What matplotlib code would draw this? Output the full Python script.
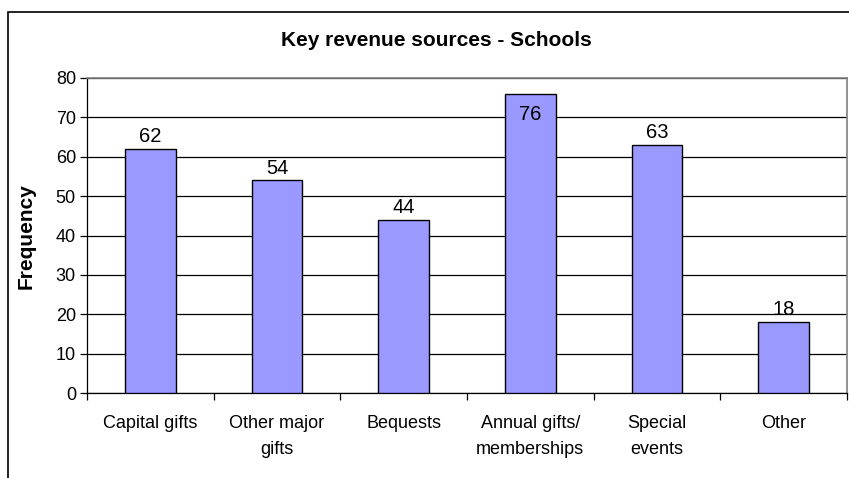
import matplotlib.pyplot as plt
from matplotlib.patches import Rectangle

categories = ["Capital gifts", "Other major\ngifts", "Bequests",
              "Annual gifts/\nmemberships", "Special\nevents", "Other"]
frequency = [62, 54, 44, 76, 63, 18]
yticks = [0, 10, 20, 30, 40, 50, 60, 70, 80]


def main():
    plt.rcParams["font.family"] = ["Liberation Sans", "DejaVu Sans"]
    fig = plt.figure(figsize=(8.49, 4.78), dpi=100)
    ax = fig.add_axes([87 / 849, 85 / 478, 760 / 849, 315 / 478])

    x = list(range(len(categories)))
    ax.bar(x, frequency, width=0.4, color="#9999FF", edgecolor="black",
           linewidth=1, zorder=3)

    for xi, v in zip(x, frequency):
        if v > 72:
            # no room above the top of the axis, put it inside the bar
            ax.annotate(str(v), (xi, v), xytext=(0, -8), textcoords="offset points",
                        ha="center", va="top", fontsize=14.5, zorder=4)
        else:
            ax.annotate(str(v), (xi, v), xytext=(0, 2), textcoords="offset points",
                        ha="center", va="bottom", fontsize=14.5, zorder=4)

    ax.set_xlim(-0.5, len(categories) - 0.5)
    ax.set_ylim(0, 80)
    ax.set_yticks(yticks)
    ax.set_yticklabels([str(t) for t in yticks], fontsize=13)
    ax.yaxis.grid(True, color="black", linewidth=0.9, zorder=1)

    # category labels sit between the ticks at the category boundaries
    ax.set_xticks(x)
    ax.set_xticklabels(categories, fontsize=13, linespacing=1.7)
    ax.tick_params(axis="x", which="major", length=0, pad=16)
    ax.set_xticks([i - 0.5 for i in range(len(categories) + 1)], minor=True)
    ax.tick_params(axis="x", which="minor", length=5, width=0.9, direction="out")
    ax.tick_params(axis="y", length=5, width=0.9, direction="out", pad=3)

    for side in ("top", "right"):
        ax.spines[side].set_color("#808080")
        ax.spines[side].set_linewidth(1.2)
    for side in ("left", "bottom"):
        ax.spines[side].set_color("black")
        ax.spines[side].set_linewidth(0.9)

    fig.text(436 / 849, 1 - 40 / 478, "Key revenue sources - Schools",
             ha="center", va="center", fontsize=15, fontweight="bold")
    fig.text(26 / 849, 1 - 236 / 478, "Frequency", rotation=90,
             ha="center", va="center", fontsize=15, fontweight="bold")

    # chart area border
    fig.patches.append(Rectangle((8 / 849, -0.05), 1.0, 1 - 12 / 478 + 0.05,
                                 transform=fig.transFigure, fill=False,
                                 edgecolor="black", linewidth=1.2))

    fig.savefig("out.png", dpi=100)


if __name__ == "__main__":
    main()
